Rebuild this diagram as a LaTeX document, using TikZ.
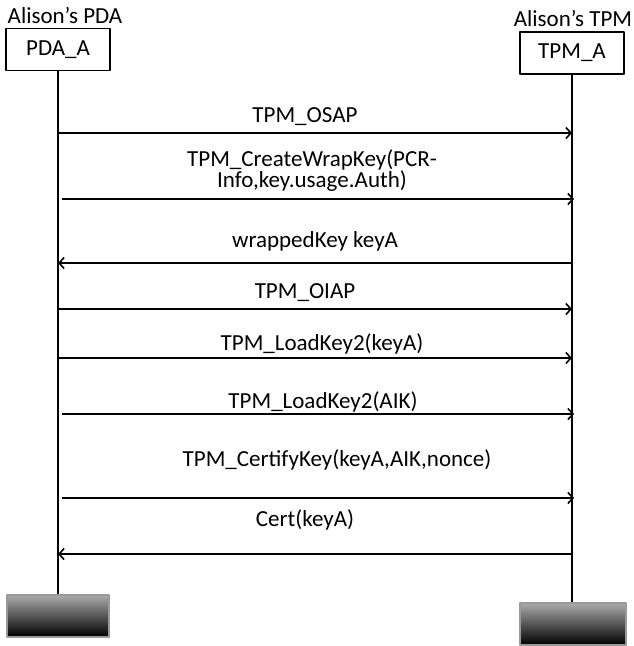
\documentclass[tikz,border=0pt]{standalone}
\usepackage{fontspec}
\setmainfont{Carlito}
\usetikzlibrary{arrows.meta}

\begin{document}
\begin{tikzpicture}[x=1pt, y=-1pt, line join=round,
    lbl/.style={font=\fontsize{23}{21}\selectfont, inner sep=0pt, align=center},
    obj/.style={draw, line width=1.8pt, minimum width=104pt, minimum height=42pt, inner sep=0pt, font=\fontsize{23}{26}\selectfont},
    endbox/.style={draw=gray!80, line width=1.2pt, top color=black!33, bottom color=black, minimum height=42pt, inner sep=0pt},
    life/.style={line width=1.8pt},
    msg/.style={line width=1.6pt, -{Straight Barb[length=5pt, width=11pt, line width=1.6pt]}}]
    \useasboundingbox (0,0) rectangle (634,646);
    % objects
    \node[obj] (pda) at (58,49.5) {PDA\_A};
    \node[obj] (tpm) at (572,53) {TPM\_A};
    \node[lbl] (pdaname) at (65,15) {Alison’s PDA};
    \node[lbl] (tpmname) at (573,18) {Alison’s TPM};
    \node[endbox, minimum width=102pt] (pdaend) at (58,616) {};
    \node[endbox, minimum width=106pt] (tpmend) at (573,624) {};
    \draw[life] (pda.south) -- (pdaend.north);
    \draw[life] (tpm.south) -- (tpmend.north -| tpm.south);
    % message end points
    \coordinate (a1) at (58,133);  \coordinate (b1) at (572,133);
    \coordinate (a2) at (62,199);  \coordinate (b2) at (574,199);
    \coordinate (a3) at (58,263);  \coordinate (b3) at (572,263);
    \coordinate (a4) at (58,309);  \coordinate (b4) at (572,309);
    \coordinate (a5) at (58,358);  \coordinate (b5) at (572,358);
    \coordinate (a6) at (62,414);  \coordinate (b6) at (574,414);
    \coordinate (a7) at (62,498);  \coordinate (b7) at (574,498);
    \coordinate (a8) at (58,554);  \coordinate (b8) at (572,554);
    \draw[msg] (a1) -- (b1);
    \draw[msg] (a2) -- (b2);
    \draw[msg] (b3) -- (a3);
    \draw[msg] (a4) -- (b4);
    \draw[msg] (a5) -- (b5);
    \draw[msg] (a6) -- (b6);
    \draw[msg] (a7) -- (b7);
    \draw[msg] (b8) -- (a8);
    % message labels
    \node[lbl] (m1) at (305,117) {TPM\_OSAP};
    \node[lbl] (m2) at (312,171) {TPM\_CreateWrapKey(PCR-\\Info,key.usage.Auth)};
    \node[lbl] (m3) at (315,241) {wrappedKey keyA};
    \node[lbl] (m4) at (305,293) {TPM\_OIAP};
    \node[lbl] (m5) at (322,344) {TPM\_LoadKey2(keyA)};
    \node[lbl] (m6) at (323,402) {TPM\_LoadKey2(AIK)};
    \node[lbl] (m7) at (337,460) {TPM\_CertifyKey(keyA,AIK,nonce)};
    \node[lbl] (m8) at (305,520) {Cert(keyA)};
\end{tikzpicture}
\end{document}
